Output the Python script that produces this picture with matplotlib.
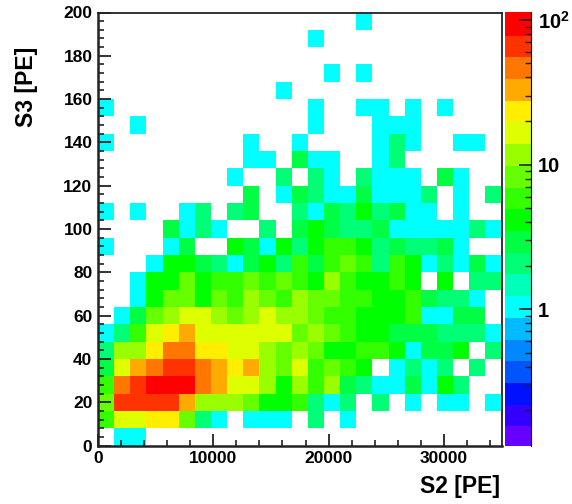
import numpy as np
import matplotlib
matplotlib.use("Agg")
import matplotlib.pyplot as plt
from matplotlib.colors import ListedColormap, LogNorm
from matplotlib.ticker import FixedLocator, NullFormatter

# counts per bin, top row (S3 192-200) first
counts = [
    [0,0,0,0,0,0,0,0,0,0,0,0,0,0,0,0,1,0,0,0,0,0,0,0,0],
    [0,0,0,0,0,0,0,0,0,0,0,0,0,1,0,0,0,0,0,0,0,0,0,0,0],
    [0,0,0,0,0,0,0,0,0,0,0,0,0,0,0,0,0,0,0,0,0,0,0,0,0],
    [0,0,0,0,0,0,0,0,0,0,0,0,0,0,1,0,1,0,0,0,0,0,0,0,0],
    [0,0,0,0,0,0,0,0,0,0,0,1,0,0,0,0,0,0,0,0,0,0,0,0,0],
    [1,0,0,0,0,0,0,0,0,0,0,0,0,1,0,0,1,1,0,1,0,1,0,0,0],
    [0,0,1,0,0,0,0,0,0,0,0,0,0,1,0,0,0,1,1,1,0,0,0,0,0],
    [1,0,0,0,0,0,0,0,0,1,0,0,1,0,0,0,0,1,2,1,0,0,1,1,0],
    [0,0,0,0,0,0,0,0,0,1,1,0,3,1,1,0,0,1,2,0,0,0,0,0,0],
    [0,0,0,0,0,0,0,0,1,0,0,2,0,2,1,0,2,1,1,1,0,3,1,0,0],
    [0,0,0,0,0,0,0,0,0,3,0,1,3,2,1,1,3,1,1,1,2,0,1,0,2],
    [1,0,1,0,0,1,2,0,2,3,0,0,2,1,3,2,4,2,3,1,1,0,1,0,0],
    [0,0,0,0,3,1,2,1,0,0,2,0,3,4,3,2,2,3,1,1,1,1,1,2,1],
    [1,0,0,0,1,3,0,0,4,3,1,4,2,4,6,6,4,2,3,2,2,3,1,0,0],
    [0,0,0,1,4,4,3,2,1,3,4,2,6,3,6,9,6,2,6,5,1,2,1,3,1],
    [0,0,1,4,4,9,4,6,6,9,6,9,6,4,12,6,4,4,6,4,0,4,0,2,2],
    [0,0,1,4,9,9,4,9,6,12,9,6,12,9,9,6,6,4,4,6,3,2,2,1,0],
    [0,1,3,9,12,17,17,12,9,12,17,12,12,9,6,6,4,4,4,6,1,1,3,3,0],
    [1,2,6,17,24,34,17,17,17,17,17,17,9,12,9,6,4,4,3,3,3,2,2,2,1],
    [2,12,12,24,48,48,24,24,17,17,12,9,12,9,4,4,6,6,4,1,3,3,4,0,2],
    [3,17,34,48,68,68,48,34,24,34,12,9,17,6,9,6,4,0,1,2,1,2,0,2,0],
    [6,48,68,95,95,95,48,34,17,17,12,4,12,6,12,3,2,1,1,3,1,4,2,0,0],
    [9,68,68,68,68,34,12,12,12,9,4,4,6,2,1,2,0,2,0,1,0,1,1,0,1],
    [6,17,17,24,24,9,2,1,0,1,1,1,0,2,0,1,0,0,0,0,0,0,0,0,0],
    [0,1,1,0,0,0,0,0,0,0,0,0,0,0,0,0,0,0,0,0,0,0,0,0,0],
]
s2_edges = np.linspace(0, 35000, 26)
s3_edges = np.linspace(0, 200, 26)
palette = ["#6600ff", "#3300ff", "#0011ff", "#0055ff", "#0088ff", "#00bbff", "#00ffff",
           "#00ffbb", "#00ff77", "#00ff44", "#00ff00", "#33ff00", "#66ff00", "#99ff00",
           "#ddff00", "#ffee00", "#ffaa00", "#ff7700", "#ff3300", "#ff0000"]
z_min = 0.113
z_max = 113.5

plt.rcParams['font.family'] = ['Liberation Sans', 'DejaVu Sans']
plt.rcParams['font.weight'] = 'bold'
plt.rcParams['mathtext.fontset'] = 'custom'
plt.rcParams['mathtext.bf'] = 'Liberation Sans:bold'
plt.rcParams['mathtext.rm'] = 'Liberation Sans:bold'

W, H = 572, 504
fig = plt.figure(figsize=(W / 100, H / 100), dpi=100)
ax = fig.add_axes([98 / W, 1 - 445.5 / H, 403.5 / W, 433 / H])
cax = fig.add_axes([505 / W, 1 - 446 / H, 26 / W, 434 / H])

z = np.ma.masked_equal(np.array(counts, dtype=float)[::-1], 0)
cmap = ListedColormap(palette)
mesh = ax.pcolormesh(s2_edges, s3_edges, z, cmap=cmap, norm=LogNorm(z_min, z_max))

ax.set_xlim(0, 35000)
ax.set_ylim(0, 200)
ax.set_xticks(np.arange(0, 30001, 10000))
ax.set_xticks(np.arange(0, 35001, 2000), minor=True)
ax.set_yticks(np.arange(0, 201, 20))
ax.set_yticks(np.arange(0, 201, 4), minor=True)
ax.tick_params(which='major', direction='in', length=9, width=1.3, color='#222222',
               labelsize=12.5, pad=4)
ax.tick_params(which='minor', direction='in', length=4.5, width=1.2, color='#222222')
for s in ax.spines.values():
    s.set_linewidth(1.3)
    s.set_color('#222222')
ax.spines['left'].set_linewidth(1.8)
ax.spines['bottom'].set_linewidth(1.8)

# axis titles sit at the end of the axes
fig.text(500 / W, 1 - 487 / H, "S2 [PE]", fontsize=16.5, ha='right', va='center')
fig.text(27 / W, 1 - 127 / H, "S3 [PE]", fontsize=16.5, rotation=90, ha='center', va='bottom')

cb = fig.colorbar(mesh, cax=cax, drawedges=False)
cb.outline.set_visible(False)
cb.solids.set_edgecolor('face')
cax.spines['right'].set_visible(True)
cax.yaxis.set_major_locator(FixedLocator([1, 10, 100]))
cax.yaxis.set_minor_locator(FixedLocator([m * d for d in [0.1, 1, 10] for m in range(2, 10)]))
cax.yaxis.set_minor_formatter(NullFormatter())
cax.set_yticks([1, 10, 100], ["1", "10", "$\\mathbf{10^{2}}$"])
cax.tick_params(which='major', direction='in', length=9, width=1.2, color='#222222',
                labelsize=14.5, pad=5, right=True, labelright=True)
cax.tick_params(which='minor', direction='in', length=4.5, width=1.0, color='#222222')

fig.savefig("out.png", dpi=100)
